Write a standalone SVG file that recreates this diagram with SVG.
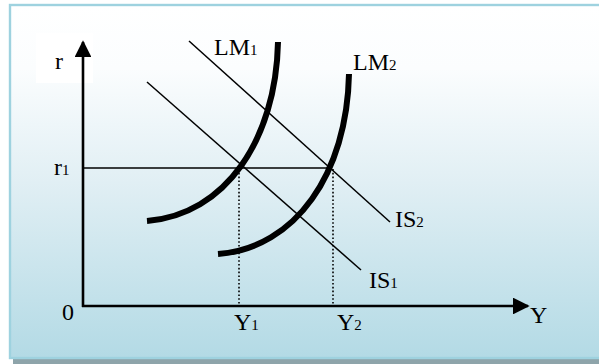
<svg xmlns="http://www.w3.org/2000/svg" width="599" height="364" viewBox="0 0 599 364">
  <defs>
    <linearGradient id="bg" x1="0" y1="0" x2="0" y2="1">
      <stop offset="0" stop-color="#ffffff"/>
      <stop offset="0.18" stop-color="#fbfdfe"/>
      <stop offset="0.5" stop-color="#e1eff4"/>
      <stop offset="1" stop-color="#b3dae5"/>
    </linearGradient>
    <marker id="arrow" viewBox="0 0 10 10" refX="9" refY="5" markerWidth="6.4" markerHeight="6.4" markerUnits="strokeWidth" orient="auto">
      <path d="M0,0 L10,5 L0,10 z" fill="#000"/>
    </marker>
    <style>
      .lbl { font-family: "Liberation Serif", "Times New Roman", serif; font-size: 24px; fill: #000; }
      .sub { font-size: 15px; }
      .axis { stroke: #000; stroke-width: 2.6; fill: none; }
      .thin { stroke: #000; stroke-width: 1.5; fill: none; }
      .lm { stroke: #000; stroke-width: 6; fill: none; }
      .dot { stroke: #000; stroke-width: 1.6; stroke-dasharray: 1.6 2.2; fill: none; }
    </style>
  </defs>

  <!-- frame -->
  <rect x="13" y="359" width="586" height="5" fill="#8ea4aa"/>
  <rect x="10" y="5" width="600" height="353" fill="url(#bg)" stroke="#9ed2df" stroke-width="2.4"/>
  <rect x="36" y="33" width="57" height="50" fill="#ffffff"/>

  <!-- axes and guides -->
  <g id="connectors">
    <line class="axis" x1="83" y1="307" x2="83" y2="42" marker-end="url(#arrow)"/>
    <line class="axis" x1="82" y1="306" x2="528" y2="306" marker-end="url(#arrow)"/>
    <line class="thin" x1="83" y1="168" x2="332" y2="168"/>
    <line class="dot" x1="239" y1="169" x2="239" y2="305"/>
    <line class="dot" x1="333" y1="169" x2="333" y2="305"/>
  </g>

  <g id="IS1">
    <line class="thin" x1="147" y1="82" x2="361" y2="270"/>
    <text class="lbl" x="369" y="288">IS<tspan class="sub">1</tspan></text>
  </g>
  <g id="IS2">
    <line class="thin" x1="189" y1="41" x2="390" y2="222"/>
    <text class="lbl" x="395" y="227">IS<tspan class="sub">2</tspan></text>
  </g>
  <g id="LM1">
    <path class="lm" d="M147,221 C225,215 276,140 278,42"/>
    <text class="lbl" x="214" y="55">LM<tspan class="sub">1</tspan></text>
  </g>
  <g id="LM2">
    <path class="lm" d="M218,254 C296,248 347,173 349,74"/>
    <text class="lbl" x="353" y="70">LM<tspan class="sub">2</tspan></text>
  </g>

  <g id="labels">
    <text class="lbl" x="55" y="69">r</text>
    <text class="lbl" x="54" y="175">r<tspan class="sub">1</tspan></text>
    <text class="lbl" x="62" y="320">0</text>
    <text class="lbl" x="234" y="330">Y<tspan class="sub">1</tspan></text>
    <text class="lbl" x="337" y="330">Y<tspan class="sub">2</tspan></text>
    <text class="lbl" x="530" y="323">Y</text>
  </g>
</svg>
